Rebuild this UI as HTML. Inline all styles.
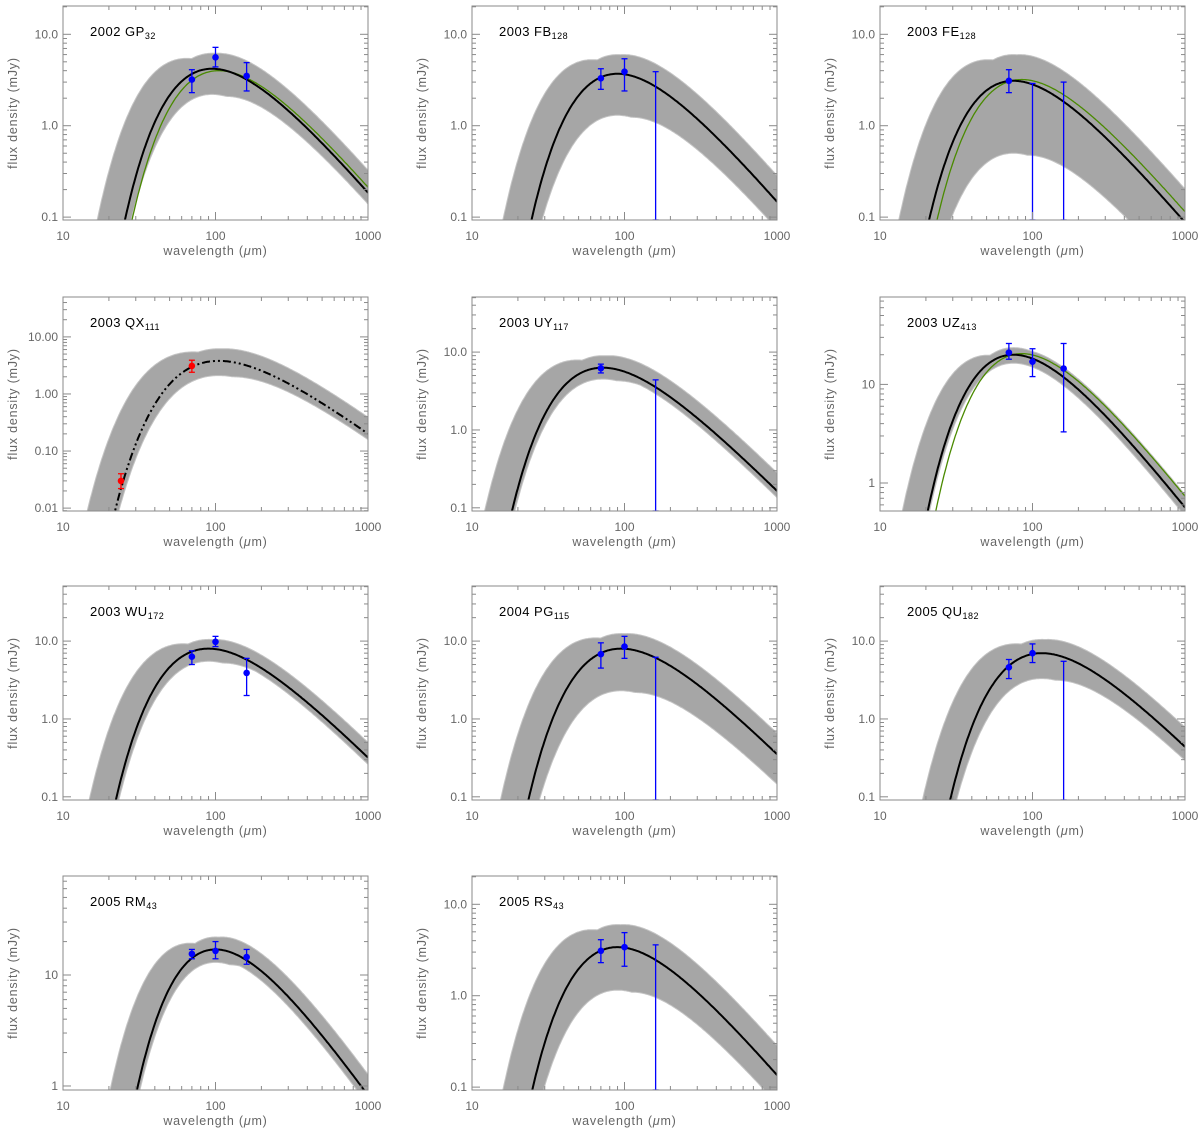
<!DOCTYPE html>
<html><head><meta charset="utf-8"><style>
html,body{margin:0;padding:0;background:#fff;overflow:hidden;width:1200px;height:1132px;}
svg{display:block;}
svg text{font-family:"Liberation Sans",sans-serif;}
</style></head><body>
<svg id="chart" width="1200" height="1132" viewBox="0 0 1200 1132" xmlns="http://www.w3.org/2000/svg"></svg>
<script>
// ---- data ----
const names = [["2002 GP","32"],["2003 FB","128"],["2003 FE","128"],["2003 QX","111"],["2003 UY","117"],["2003 UZ","413"],["2003 WU","172"],["2004 PG","115"],["2005 QU","182"],["2005 RM","43"],["2005 RS","43"]];
const peakWl   = [95, 90, 75, 105, 72, 75, 90, 95, 115, 100, 90];
const peakFlux = [4.2, 3.7, 3.1, 3.8, 6.3, 20, 8, 8, 7, 17, 3.4];
const bandHigh = [6.2, 6.0, 6.0, 6.2, 9.0, 22.5, 10.5, 12.5, 10.5, 22, 6.0];
const bandLow  = [2.2, 1.3, 0.5, 2.1, 4.5, 17, 5.5, 2.3, 3.3, 13, 1.15];
const greenWl   = [105, null, 85, null, null, 85, null, null, null, null, null];
const greenFlux = [4.0, null, 3.2, null, null, 20.5, null, null, null, null, null];
const dashed = [false,false,false,true,false,false,false,false,false,false,false];
// points: [wavelength, flux, errLow, errHigh]; flux null = upper limit
const points = [
 [[70,3.2,2.3,4.1],[100,5.6,4.4,7.2],[160,3.5,2.4,4.9]],
 [[70,3.3,2.5,4.2],[100,3.9,2.4,5.4],[160,null,0.01,3.9]],
 [[70,3.1,2.3,4.1],[100,null,0.01,2.9],[160,null,0.01,3.0]],
 [[24,0.03,0.022,0.04],[70,3.1,2.4,3.9]],
 [[70,6.2,5.4,7.0],[160,null,0.01,4.4]],
 [[70,21,18,26],[100,17,12,23],[160,14.5,3.3,26]],
 [[70,6.3,5.0,7.5],[100,9.8,8.5,11.5],[160,3.9,2.0,6.0]],
 [[70,6.8,4.5,9.5],[100,8.5,6.0,11.5],[160,null,0.01,6.2]],
 [[70,4.6,3.3,5.8],[100,7.0,5.3,9.2],[160,null,0.01,5.5]],
 [[70,15.5,14,17],[100,16.5,14,20],[160,14.5,12.5,17]],
 [[70,3.1,2.3,4.1],[100,3.4,2.1,4.9],[160,null,0.01,3.6]]
];
const pointColor = ["blue","blue","blue","red","blue","blue","blue","blue","blue","blue","blue"];
const yMin = [0.093,0.093,0.093,0.0089,0.091,0.52,0.091,0.091,0.091,0.92,0.093];
const yMax = [20.4,20.4,20.4,50,51,77,51,51,51,78,20.4];
const yTicks = [["0.1","1.0","10.0"],["0.1","1.0","10.0"],["0.1","1.0","10.0"],["0.01","0.10","1.00","10.00"],["0.1","1.0","10.0"],["1","10"],["0.1","1.0","10.0"],["0.1","1.0","10.0"],["0.1","1.0","10.0"],["1","10"],["0.1","1.0","10.0"]];
const xTicks = ["10","100","1000"];

// ---- layout ----
const colX = [63, 472, 880];
const rowY = [6, 297, 586, 876];
const PW = 305, PH = 214;
const svg = document.getElementById('chart');
const NS = 'http://www.w3.org/2000/svg';
function mk(tag, attrs, parent){const e=document.createElementNS(NS,tag);for(const k in attrs)e.setAttribute(k,attrs[k]);(parent||svg).appendChild(e);return e;}

function g(x){return x*x*x/(Math.exp(x)-1);}
const G0 = g(2.8214);
function model(l, lp, fp){return fp*g(2.8214*lp/l)/G0;}

const lams=[];for(let i=0;i<=300;i++)lams.push(Math.pow(10,1+2*i/300));

names.forEach((nm,p)=>{
  const ox=colX[p%3], oy=rowY[Math.floor(p/3)];
  const ly0=Math.log10(yMin[p]), ly1=Math.log10(yMax[p]);
  const X=l=>ox+(Math.log10(l)-1)/2*PW;
  const Y=f=>oy+PH-(Math.log10(Math.max(f,1e-6))-ly0)/(ly1-ly0)*PH;
  const grp=mk('g',{});
  
  
  const cid='clip'+p;
  const cp=mk('clipPath',{id:cid},grp);mk('rect',{x:ox,y:oy,width:PW,height:PH},cp);
  const inner=mk('g',{'clip-path':'url(#'+cid+')'},grp);
  // band
  const best=lams.map(l=>model(l,peakWl[p],peakFlux[p]));
  const up=lams.map((l,i)=>Math.max(best[i]*1.18,model(l,peakWl[p]*0.68,bandHigh[p]*0.88),model(l,peakWl[p],bandHigh[p]),model(l,peakWl[p]*1.1,bandHigh[p])));
  const lo=lams.map((l,i)=>Math.min(best[i]*0.82,Math.max(model(l,peakWl[p],bandLow[p]),model(l,peakWl[p]*1.25,bandLow[p]*0.95))));
  let d='M'+lams.map((l,i)=>X(l).toFixed(1)+','+Y(up[i]).toFixed(1)).join('L');
  for(let i=lams.length-1;i>=0;i--)d+='L'+X(lams[i]).toFixed(1)+','+Y(lo[i]).toFixed(1);
  const band=mk('path',{d:d+'Z',fill:'#a6a6a6',stroke:'#c4c4c4','stroke-width':1},inner);
  
  
  if(greenWl[p]){
    const gl=mk('path',{d:'M'+lams.map(l=>X(l).toFixed(1)+','+Y(model(l,greenWl[p],greenFlux[p])).toFixed(1)).join('L'),fill:'none',stroke:'#4a8a00','stroke-width':1.3},inner);
    
    
  }
  const bl=mk('path',{d:'M'+lams.map((l,i)=>X(l).toFixed(1)+','+Y(best[i]).toFixed(1)).join('L'),fill:'none',stroke:'#000','stroke-width':2},inner);
  if(dashed[p])bl.setAttribute('stroke-dasharray','8,3,2,3,2,3');
  
  
  // points
  points[p].forEach(pt=>{
    const c=pointColor[p], x=X(pt[0]);
    const yl=Math.min(Y(pt[2]),oy+PH), yh=Y(pt[3]);
    const eb=mk('line',{x1:x,x2:x,y1:yl,y2:yh,stroke:c,'stroke-width':1.3},inner);
    
    
    mk('line',{x1:x-3,x2:x+3,y1:yh,y2:yh,stroke:c,'stroke-width':1.3},inner);
    mk('line',{x1:x-3,x2:x+3,y1:yl,y2:yl,stroke:c,'stroke-width':1.3},inner);
    if(pt[1]!==null){
      const dot=mk('circle',{cx:x,cy:Y(pt[1]),r:3.3,fill:c},inner);
      
      
    }
  });
  // frame
  mk('rect',{x:ox,y:oy,width:PW,height:PH,fill:'none',stroke:'#8a8a8a','stroke-width':1},grp);
  // x ticks
  for(let e=1;e<3;e++)for(let m=1;m<10;m++){
    const v=m*Math.pow(10,e); if(v>1000)break;
    const x=X(v), len=m===1?8:4;
    if(m===1&&e===1)continue;
    mk('line',{x1:x,x2:x,y1:oy+PH,y2:oy+PH-len,stroke:'#8a8a8a'},grp);
    mk('line',{x1:x,x2:x,y1:oy,y2:oy+len,stroke:'#8a8a8a'},grp);
  }
  xTicks.forEach((t,i)=>{const tx=mk('text',{x:ox+i*PW/2,y:oy+PH+20,'font-size':12,fill:'#666','text-anchor':'middle'},grp);tx.textContent=t;
    });
  // y ticks
  for(let e=Math.floor(ly0)-1;e<=Math.ceil(ly1);e++)for(let m=1;m<10;m++){
    const v=m*Math.pow(10,e); if(v<yMin[p]||v>yMax[p])continue;
    const y=Y(v), len=m===1?8:4;
    mk('line',{x1:ox,x2:ox+len,y1:y,y2:y,stroke:'#8a8a8a'},grp);
    mk('line',{x1:ox+PW,x2:ox+PW-len,y1:y,y2:y,stroke:'#8a8a8a'},grp);
  }
  const firstExp = Math.log10(parseFloat(yTicks[p][0]));
  yTicks[p].forEach((t,i)=>{const ty=mk('text',{x:ox-5,y:Y(Math.pow(10,firstExp+i))+4,'font-size':12,fill:'#666','text-anchor':'end'},grp);ty.textContent=t;
    });
  const xt=mk('text',{x:ox+PW/2,y:oy+PH+35,'font-size':12.5,fill:'#666','text-anchor':'middle','letter-spacing':'0.8'},grp);
  xt.innerHTML='wavelength (<tspan font-style="italic">μ</tspan>m)';
  
  const yt=mk('text',{x:0,y:0,'font-size':12.5,fill:'#666','text-anchor':'middle','letter-spacing':'0.8',transform:'translate('+(ox-46)+','+(oy+PH/2)+') rotate(-90)'},grp);
  yt.textContent='flux density (mJy)';
  
  const tt=mk('text',{x:ox+27,y:oy+30,'font-size':13,fill:'#000','letter-spacing':'0.5'},grp);
  tt.innerHTML=nm[0]+'<tspan font-size="9" dy="3">'+nm[1]+'</tspan>';
  
});
</script>
</body></html>
